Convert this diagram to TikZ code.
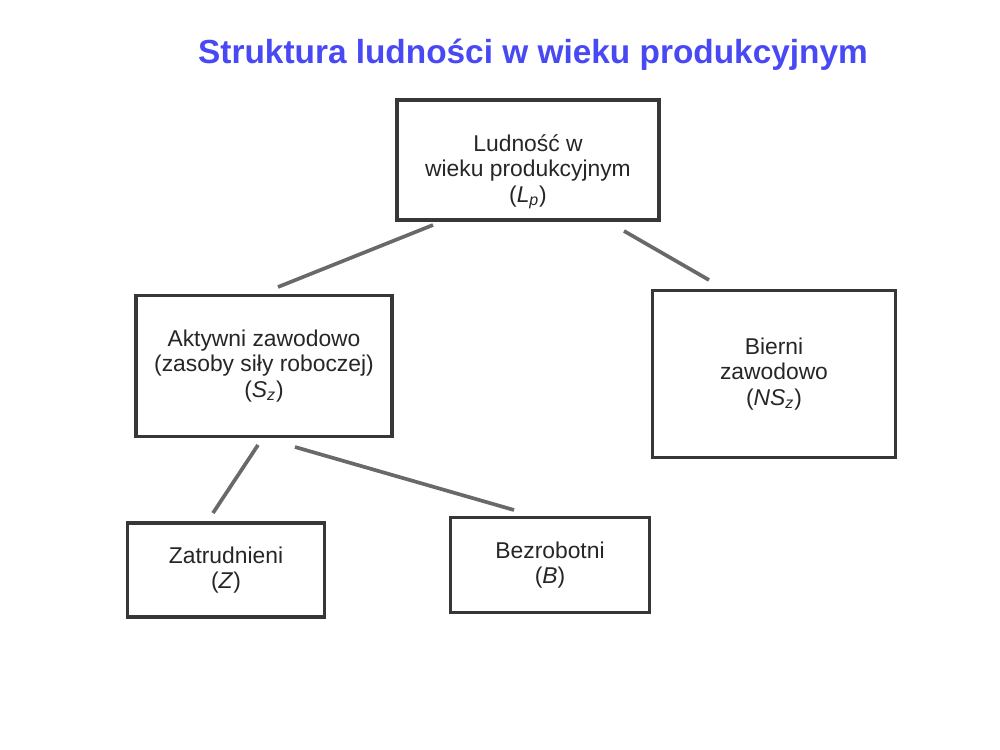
\documentclass[tikz,border=0pt]{standalone}
\usepackage{fontspec}
\setmainfont{Liberation Sans}
\definecolor{titleblue}{RGB}{72,72,245}
\definecolor{boxgray}{RGB}{55,55,55}
\definecolor{linegray}{RGB}{105,105,105}
\begin{document}
\begin{tikzpicture}[x=0.02cm,y=-0.02cm,
  box/.style={draw=boxgray, line width=1.8pt, fill=white, inner sep=0pt,
    align=center, font=\fontsize{13}{14.5}\selectfont, text=black!85},
  conn/.style={draw=linegray, line width=2.1pt}]
\useasboundingbox (0,0) rectangle (1000,750);
\fill[white] (0,0) rectangle (1000,750);

\node[font=\bfseries\fontsize{19}{22}\selectfont, text=titleblue] (title) at (533,55) {Struktura ludności w wieku produkcyjnym};

\node[box, minimum width=262*0.02cm, minimum height=120*0.02cm] (top) at (528,160)
  {\strut\\[-2pt]Ludność w\\wieku produkcyjnym\\(\textit{L}\textsubscript{\textit{p}})};
\node[box, minimum width=256*0.02cm, minimum height=141*0.02cm] (akt) at (264,366)
  {Aktywni zawodowo\\(zasoby siły roboczej)\\(\textit{S}\textsubscript{\textit{z}})};
\node[box, minimum width=243*0.02cm, minimum height=167*0.02cm] (bier) at (774,374)
  {Bierni\\zawodowo\\(\textit{NS}\textsubscript{\textit{z}})};
\node[box, minimum width=197*0.02cm, minimum height=94*0.02cm] (zat) at (226,570)
  {Zatrudnieni\\(\textit{Z})};
\node[box, minimum width=199*0.02cm, minimum height=95*0.02cm] (bez) at (550,565)
  {Bezrobotni\\(\textit{B})};

\coordinate (c1a) at (433,225);
\coordinate (c1b) at (278,287);
\coordinate (c2a) at (624,231);
\coordinate (c2b) at (709,280);
\coordinate (c3a) at (258,445);
\coordinate (c3b) at (213,513);
\coordinate (c4a) at (295,447);
\coordinate (c4b) at (514,510);

\draw[conn] (c1a) -- (c1b);
\draw[conn] (c2a) -- (c2b);
\draw[conn] (c3a) -- (c3b);
\draw[conn] (c4a) -- (c4b);
\end{tikzpicture}
\end{document}
